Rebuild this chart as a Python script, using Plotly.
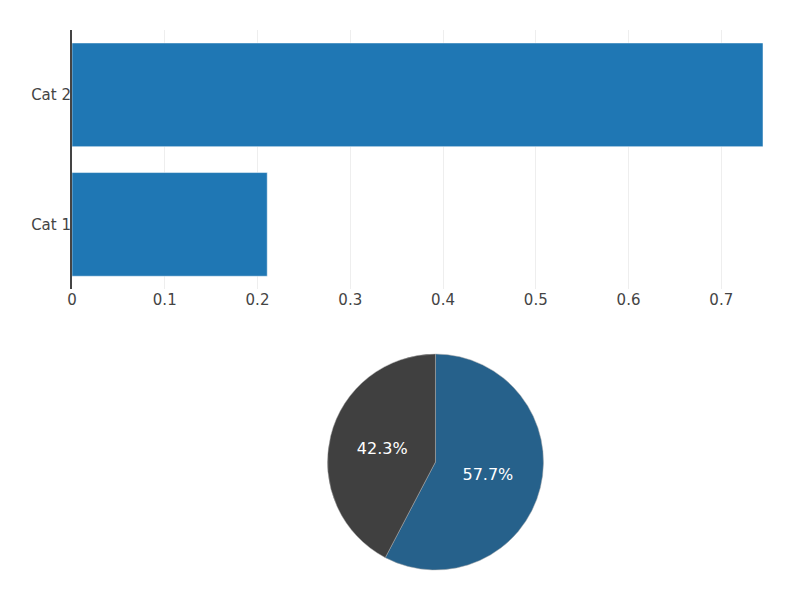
import plotly.graph_objects as go

categories = ["Cat 1", "Cat 2"]
bar_values = [0.2105, 0.745]
pie_labels = ["A", "B"]
pie_values = [15, 11]
pie_colors = ["#26618b", "#404040"]

fig = go.Figure()
fig.add_trace(go.Bar(
    y=categories, x=bar_values, orientation="h",
    marker=dict(color="#1f77b4", line=dict(color="white", width=0.5)),
    xaxis="x", yaxis="y", showlegend=False,
))
fig.add_trace(go.Pie(
    labels=pie_labels, values=pie_values, sort=False,
    marker=dict(colors=pie_colors, line=dict(color="#aaaaaa", width=0.5)),
    textinfo="percent", textfont=dict(color="white", size=16, family="DejaVu Sans"),
    domain=dict(x=[0.052, 1.0], y=[0.0, 0.4]),
    showlegend=False,
))
fig.update_layout(
    width=802, height=615,
    margin=dict(l=64, r=47, t=22, b=53),
    paper_bgcolor="white", plot_bgcolor="white",
    font=dict(color="#444", size=15, family="DejaVu Sans"),
    xaxis=dict(domain=[0, 1], range=[0, max(bar_values)], showgrid=True,
               gridcolor="#eeeeee", gridwidth=1, zeroline=False, showline=False,
               ticks="", dtick=0.1, anchor="y"),
    yaxis=dict(domain=[0.52, 1.0], showline=True, linecolor="#444", linewidth=2,
               showgrid=False, zeroline=False, ticks="", anchor="x",
               ticklabelstandoff=-4),
    showlegend=False,
)
fig.write_html("out.html")
